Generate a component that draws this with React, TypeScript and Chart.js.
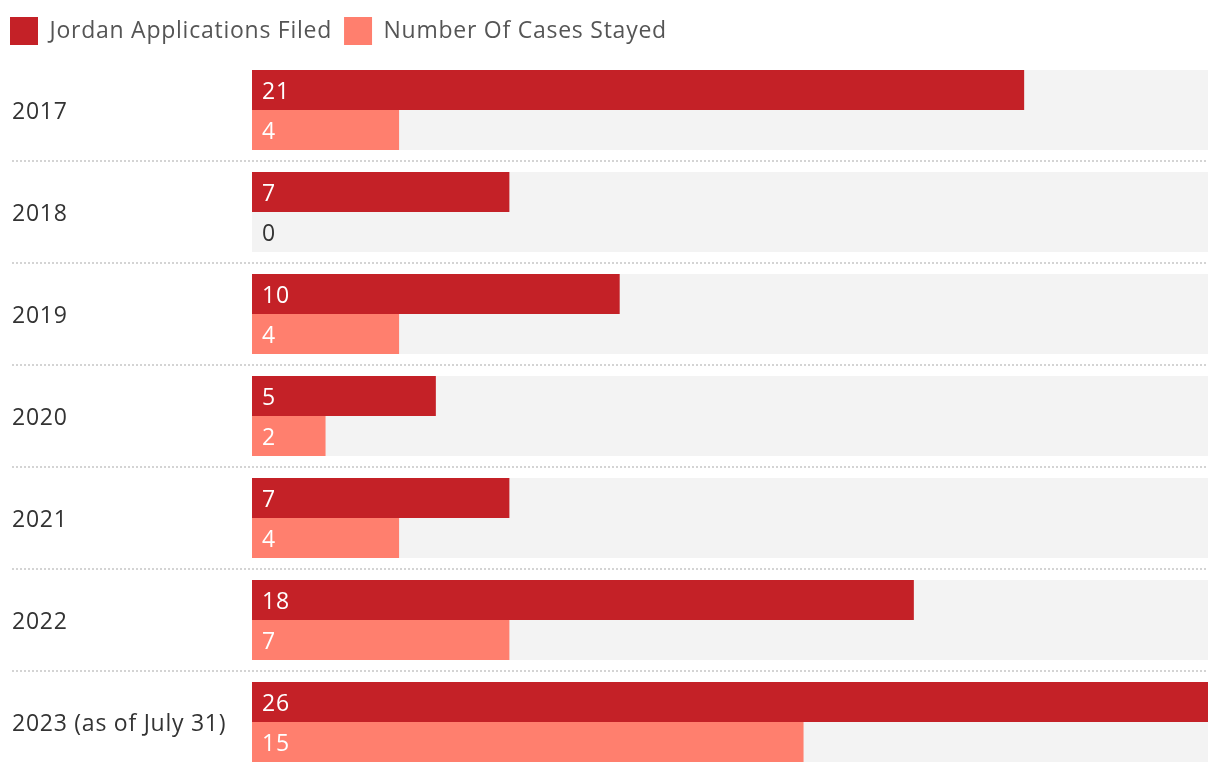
import React, { useEffect, useRef } from "react";
import { Chart, registerables } from "chart.js";

Chart.register(...registerables);

const categories = ["2017", "2018", "2019", "2020", "2021", "2022", "2023 (as of July 31)"];
const applicationsFiled = [21, 7, 10, 5, 7, 18, 26];
const casesStayed = [4, 0, 4, 2, 4, 7, 15];
const seriesNames = ["Jordan Applications Filed", "Number Of Cases Stayed"];
const seriesColors = ["#C42127", "#FF7F6E"];
const axisMax = 26;

const FONT = "'Open Sans', sans-serif";
const FSIZE = 23;
const SPACING = "0.75px";

const decorPlugin = {
  id: "decor",
  beforeInit(chart: any) {
    chart.ctx.letterSpacing = SPACING;
  },
  beforeUpdate(chart: any) {
    chart.ctx.letterSpacing = SPACING;
  },
  beforeDraw(chart: any) {
    chart.ctx.letterSpacing = SPACING;
  },
  afterLayout(chart: any) {
    const lg = chart.legend;
    if (lg) {
      lg.left -= 14;
      lg.right -= 14;
      lg.top -= 4;
      lg.bottom -= 4;
    }
  },
  beforeDatasetsDraw(chart: any) {
    const { ctx, chartArea } = chart;
    const m0 = chart.getDatasetMeta(0);
    const m1 = chart.getDatasetMeta(1);
    const y = chart.scales.y;
    ctx.save();
    ctx.fillStyle = "#F3F3F3";
    for (let i = 0; i < categories.length; i++) {
      const a = m0.data[i];
      const b = m1.data[i];
      const top = a.y - a.height / 2;
      const bottom = b.y + b.height / 2;
      ctx.fillRect(chartArea.left, top, chartArea.right - chartArea.left, bottom - top);
    }
    ctx.strokeStyle = "#D4D4D4";
    ctx.lineWidth = 2;
    ctx.setLineDash([2, 2]);
    for (let i = 0; i < categories.length - 1; i++) {
      const yy = Math.round((y.getPixelForValue(i) + y.getPixelForValue(i + 1)) / 2);
      ctx.beginPath();
      ctx.moveTo(12, yy);
      ctx.lineTo(chartArea.right, yy);
      ctx.stroke();
    }
    ctx.restore();
  },
  afterDatasetsDraw(chart: any) {
    const { ctx, chartArea } = chart;
    ctx.save();
    ctx.letterSpacing = SPACING;
    ctx.font = `${FSIZE}px ${FONT}`;
    ctx.textBaseline = "middle";
    ctx.textAlign = "left";
    chart.data.datasets.forEach((ds: any, di: number) => {
      const meta = chart.getDatasetMeta(di);
      meta.data.forEach((el: any, i: number) => {
        const v = ds.data[i];
        ctx.fillStyle = v === 0 ? "#333333" : "#FFFFFF";
        ctx.fillText(String(v), chartArea.left + 10, el.y + 2);
      });
    });
    ctx.restore();
  },
};

export default function App() {
  const ref = useRef<HTMLCanvasElement | null>(null);

  useEffect(() => {
    if (!ref.current) return;
    const chart = new Chart(ref.current, {
      type: "bar",
      data: {
        labels: categories,
        datasets: [
          {
            label: seriesNames[0],
            data: applicationsFiled,
            backgroundColor: seriesColors[0],
            categoryPercentage: 80 / 102,
            barPercentage: 1,
          },
          {
            label: seriesNames[1],
            data: casesStayed,
            backgroundColor: seriesColors[1],
            categoryPercentage: 80 / 102,
            barPercentage: 1,
          },
        ],
      },
      options: {
        indexAxis: "y",
        animation: false,
        responsive: true,
        maintainAspectRatio: false,
        layout: { padding: { top: 9, left: 12, right: 12, bottom: 1 } },
        plugins: {
          legend: {
            position: "top",
            align: "start",
            labels: {
              boxWidth: 28,
              boxHeight: 28,
              padding: 12,
              color: "#555555",
              font: { size: FSIZE, family: FONT },
            },
          },
          tooltip: { enabled: false },
        },
        scales: {
          x: {
            min: 0,
            max: axisMax,
            display: false,
            grid: { display: false },
          },
          y: {
            grid: { display: false },
            border: { display: false },
            ticks: {
              crossAlign: "far",
              padding: 0,
              labelOffset: 2,
              color: "#333333",
              font: { size: FSIZE, family: FONT, lineHeight: 0.05 },
            },
            afterFit(scale: any) {
              scale.width = 240;
            },
          },
        },
      },
      plugins: [decorPlugin],
    } as any);
    return () => chart.destroy();
  }, []);

  return (
    <div style={{ position: "absolute", left: 0, top: 0, width: 1220, height: 774 }}>
      <canvas ref={ref} />
    </div>
  );
}
